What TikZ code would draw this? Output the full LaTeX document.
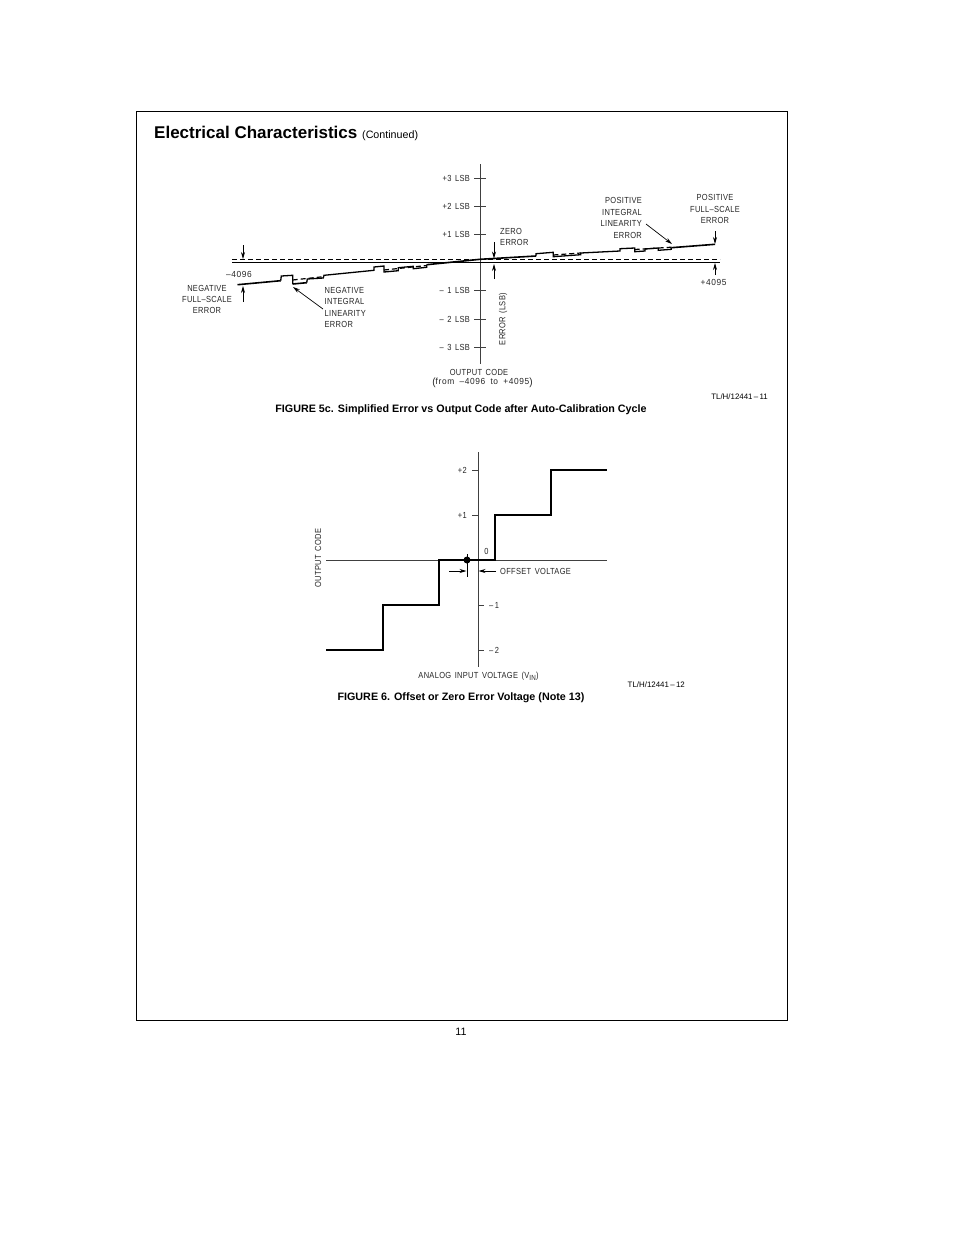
\documentclass[tikz,border=0pt]{standalone}
\usepackage{fontspec}
\setmainfont{Liberation Sans}
\newfontfamily\lblfont[FakeStretch=0.85,LetterSpace=3.5,WordSpace=1.5]{Liberation Sans}
\newfontfamily\fromfont[FakeStretch=0.95,LetterSpace=7,WordSpace=1.8]{Liberation Sans}
\usetikzlibrary{arrows.meta}
\tikzset{
 lbl/.style={font=\lblfont\fontsize{8.8}{11.4}\selectfont,inner sep=0pt,align=center,text=black!85},
 lbll/.style={lbl,align=left},
 lblr/.style={lbl,align=right},
 numl/.style={lbl,font=\fromfont\fontsize{8.8}{11}\selectfont},
 axis/.style={draw=black!75,line width=1pt},
 ref/.style={draw=black,line width=1pt},
 trace/.style={draw=black,line width=1.6pt,line join=miter},
 tr/.style={draw=black,line width=1.3pt},
 dashref/.style={draw=black,line width=0.7pt,dash pattern=on 5pt off 3pt},
 dashtrace/.style={draw=black,line width=1.2pt,dash pattern=on 5pt off 3pt},
 arr/.style={draw=black,line width=0.7pt,-{Stealth[length=7pt,width=4pt]}},
 captxt/.style={font=\bfseries\fontsize{10.75}{12}\selectfont,inner sep=0pt},
 tl/.style={font=\fontsize{7.9}{9}\selectfont,inner sep=0pt,anchor=east},
}
\begin{document}
\begin{tikzpicture}[x=1pt,y=-1pt]
\useasboundingbox (0,0) rectangle (954,1235);
\fill[white] (0,0) rectangle (954,1235);
\node[draw=black,line width=0.6pt,minimum width=651pt,minimum height=909pt,inner sep=0pt,anchor=north west] (frame) at (136,111) {};
\node[anchor=base west,inner sep=0pt,font=\bfseries\fontsize{17}{19}\selectfont] (head) at (154,138) {Electrical Characteristics};
\node[anchor=base west,inner sep=0pt,font=\fontsize{10.7}{12}\selectfont] (cont) at (362,138) {(Continued)};
\node[font=\fontsize{10.7}{12}\selectfont,inner sep=0pt] (pg) at (461,1031.5) {11};

% ---- Figure 5c
\coordinate (ya) at (480,164); \coordinate (yb) at (480,364);
\draw[axis] (ya) -- (yb);
\foreach \n/\y/\t in {p3/178/+3 LSB,p2/206/+2 LSB,p1/234/+1 LSB,m1/290/– 1 LSB,m2/319/– 2 LSB,m3/347/– 3 LSB}{
  \coordinate (tl\n) at (474,\y); \coordinate (tr\n) at (486,\y);
  \draw[axis] (tl\n) -- (tr\n);
  \node[lbl,anchor=east] (l\n) at (470,\y+0.7) {\t};
}
\coordinate (rl) at (232,262.3); \coordinate (rr) at (720,262.3);
\draw[ref] (rl) -- (rr);
\coordinate (dl) at (232,259.3); \coordinate (dr) at (720,259.3);
\draw[dashref] (dl) -- (dr);
% error trace (left part)
\draw[trace] (237.5,284.7) -- (280.7,280.7);
\draw[tr] (280.7,280.7) -- (281.3,276) -- (292.7,275.3) -- (292.7,284);
\draw[trace] (292.7,284) -- (306.7,282.7);
\draw[tr] (306.7,282.7) -- (307.3,279) -- (323.3,278) -- (324,275.3) -- (374,270.3) -- (374,267) -- (384,266) -- (384,272) -- (398.3,270.7) -- (398.3,267.7) -- (413.3,266.3) -- (413.3,268.7) -- (426.7,267.3) -- (426.7,264.7);
\draw[trace] (426.7,264.7) -- (480,259.3);
\draw[dashtrace] (292.7,280) -- (323.3,276.7);
\draw[dashtrace] (384,270) -- (426.7,265.5);
% error trace (right part)
\draw[trace] (480,259.3) -- (536,256);
\draw[tr] (536,256) -- (536,253.7) -- (553.3,252.3) -- (553.3,256.7) -- (580.7,254.7) -- (580.7,253) -- (620,251) -- (620,248.7) -- (634.7,248) -- (634.7,251.7) -- (645,251) -- (645,249) -- (658.3,248) -- (658.3,250.3) -- (671.3,249.3) -- (671.3,247.7);
\draw[trace] (671.3,247.7) -- (715,244.3);
\draw[dashtrace] (553.3,255) -- (580.7,253);
\draw[dashtrace] (634.7,249.5) -- (671.3,247.2);
% arrows
\coordinate (a1s) at (243,245); \coordinate (a1e) at (243,259);
\coordinate (a2s) at (243,302); \coordinate (a2e) at (243,286);
\coordinate (a3s) at (494,242); \coordinate (a3e) at (494,258.5);
\coordinate (a4s) at (494,279); \coordinate (a4e) at (494,264);
\coordinate (a5s) at (715,231); \coordinate (a5e) at (715,244);
\coordinate (a6s) at (715,275); \coordinate (a6e) at (715,263);
\foreach \i in {1,...,6} \draw[arr] (a\i s) -- (a\i e);
\node[numl] (n4096) at (239,274) {–4096};
\node[numl] (p4095) at (713.5,282) {+4095};
\node[lbl] (negfs) at (207,299.5) {NEGATIVE\\FULL–SCALE\\ERROR};
\node[lbll,anchor=west] (negil) at (324.5,307.5) {NEGATIVE\\INTEGRAL\\LINEARITY\\ERROR};
\node[lblr,anchor=east] (posil) at (642,218) {POSITIVE\\INTEGRAL\\LINEARITY\\ERROR};
\node[lbl] (posfs) at (715,209) {POSITIVE\\FULL–SCALE\\ERROR};
\node[lbll,anchor=west] (zero) at (500,236.8) {ZERO\\ERROR};
\coordinate (ls) at (323,309); \coordinate (la) at (293,287);
\draw[arr] (ls) -- (la);
\coordinate (lt) at (646,224); \coordinate (lb) at (672,244);
\draw[arr] (lt) -- (lb);
\node[lbl,rotate=90] (errl) at (503,319) {ERROR (LSB)};
\node[lbl] (oc) at (479,372.5) {OUTPUT CODE};
\node[numl] (fr) at (482.5,382.5) {\raisebox{-0.5pt}{\fontsize{10.5}{11}\selectfont(}from –4096 to +4095\raisebox{-0.5pt}{\fontsize{10.5}{11}\selectfont)}};
\node[tl] (tl1) at (768,396.5) {TL/H/12441\,–\,11};
\node[captxt] (c1) at (461,410) {FIGURE 5c. Simplified Error vs Output Code after Auto-Calibration Cycle};

% ---- Figure 6
\coordinate (xa) at (326,560); \coordinate (xb) at (607,560);
\coordinate (va) at (478,452); \coordinate (vb) at (478,667);
\draw[axis] (xa) -- (xb);
\draw[axis] (va) -- (vb);
\foreach \n/\y/\t in {a/470/+2,b/515/+1}{
  \coordinate (s\n) at (478,\y); \coordinate (e\n) at (472,\y);
  \draw[axis] (s\n) -- (e\n);
  \node[lbl,anchor=east] (v\n) at (467,\y+0.5) {\t};
}
\foreach \n/\y/\t in {c/605/–\,1,d/650/–\,2}{
  \coordinate (s\n) at (478,\y); \coordinate (e\n) at (484,\y);
  \draw[axis] (s\n) -- (e\n);
  \node[lbl,anchor=west] (v\n) at (489,\y+0.5) {\t};
}
\draw[trace] (326,650) -| (383,605) -| (439,560) -| (495,515) -| (551,470) -- (607,470);
\node[circle,fill=black,inner sep=0pt,minimum size=7pt] (dot) at (467,560) {};
\coordinate (dt) at (467,554); \coordinate (db) at (467,577);
\draw[draw=black,line width=0.7pt] (dt) -- (db);
\coordinate (o1s) at (449,571); \coordinate (o1e) at (466.5,571);
\coordinate (o2s) at (496,571); \coordinate (o2e) at (478.5,571);
\draw[arr] (o1s) -- (o1e);
\draw[arr] (o2s) -- (o2e);
\node[lbl] (zz) at (486.5,551.5) {0};
\node[lbl,anchor=west] (off) at (500,571.7) {OFFSET VOLTAGE};
\node[lbl,rotate=90] (ocv) at (318,558) {OUTPUT CODE};
\node[lbl] (ain) at (478.5,676) {ANALOG INPUT VOLTAGE (V\raisebox{-2.2pt}{\fontsize{7.4}{8}\selectfont IN})};
\node[tl] (tl2) at (685,684.5) {TL/H/12441\,–\,12};
\node[captxt] (c2) at (461,698) {FIGURE 6. Offset or Zero Error Voltage (Note 13)};
\end{tikzpicture}
\end{document}
